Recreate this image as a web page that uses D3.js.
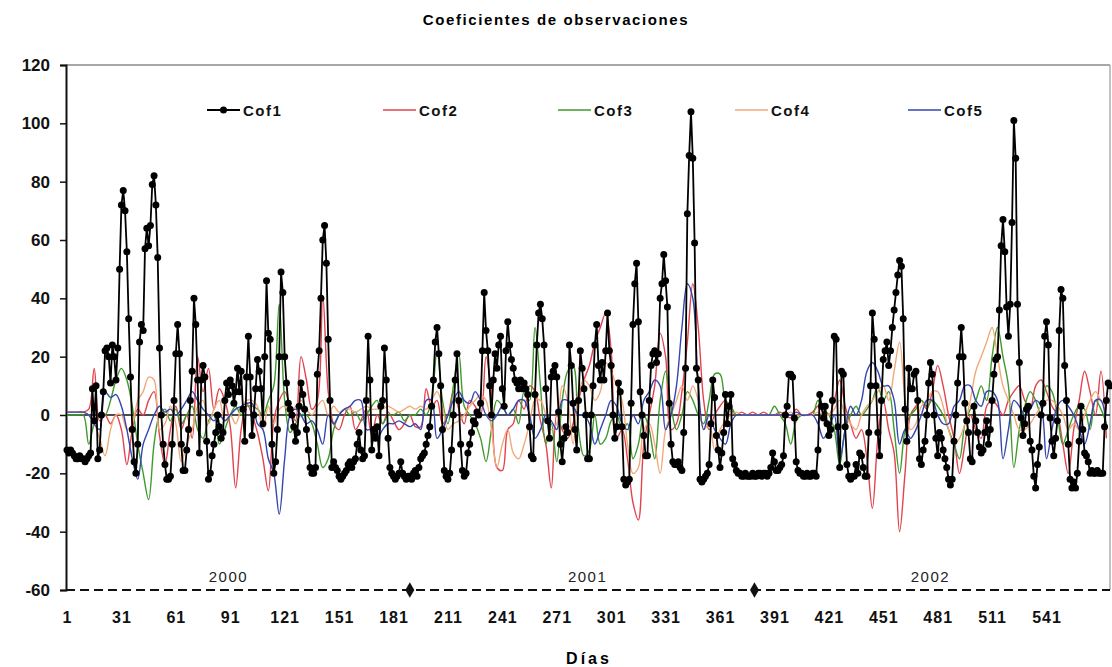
<!DOCTYPE html>
<html>
<head>
<meta charset="utf-8">
<script src="https://cdn.jsdelivr.net/npm/d3@7"></script>
<style>
  html, body { margin: 0; padding: 0; background: #fff; }
  svg { display: block; }
  text { font-family: "Liberation Sans", Arial, sans-serif; }
</style>
</head>
<body>
<svg id="chart" width="1112" height="667"></svg>
<script>
// ---------------- DATA ----------------
const seriesNames = ["Cof1", "Cof2", "Cof3", "Cof4", "Cof5"];
const xTickLabels = [1, 31, 61, 91, 121, 151, 181, 211, 241, 271, 301, 331, 361, 391, 421, 451, 481, 511, 541];
const yTickLabels = [-60, -40, -20, 0, 20, 40, 60, 80, 100, 120];
const yearLabels = ["2000", "2001", "2002"];
const yearLabelDays = [90, 288, 477];
const yearMarkDays = [190, 380];

// Cof1: one value per day (day 1 .. 576)
const cof1 = [
 -12,-13,-12,-13,-14,-15,-15,-14,-15,-15,
 -16,-15,-14,-13,9,-2,10,-15,-12,0,
 8,22,23,20,11,24,20,12,23,50,
 72,77,70,56,33,13,-5,-16,-20,-10,
 25,31,29,57,64,58,65,79,82,72,
 54,23,0,-10,-17,-22,-22,-21,-10,5,
 21,31,21,-10,-19,-19,-12,-5,5,15,
 40,31,12,-13,12,17,13,-9,-22,-20,
 -14,-10,-6,0,-4,-8,-6,5,11,7,
 12,10,4,8,16,8,15,2,-9,13,
 27,13,-7,0,9,19,15,9,-3,20,
 46,28,26,-10,-20,-16,-5,20,49,42,
 20,11,4,2,0,-4,-9,-6,3,11,
 7,2,-5,-12,-18,-20,-20,-18,14,22,
 40,60,65,52,26,5,-18,-16,-18,-19,
 -21,-22,-21,-20,-19,-17,-16,-18,-16,-15,
 -10,-6,-12,-15,-14,5,27,12,-12,-5,
 -8,-4,-14,3,5,23,12,-8,-18,-20,
 -21,-22,-21,-20,-16,-20,-21,-22,-21,-21,
 -22,-20,-19,-21,-18,-15,-14,-13,-10,-7,
 -4,3,12,25,30,21,10,-5,-19,-21,
 -22,-20,-12,0,12,21,5,-10,-19,-21,
 -20,-13,-10,-6,-2,-3,1,0,4,22,
 42,29,22,10,0,12,21,16,24,27,
 9,3,22,32,24,19,16,12,11,9,
 12,9,11,9,7,-4,-14,-15,7,24,
 35,38,33,24,9,-2,-8,13,15,17,
 13,1,-10,-16,-8,-4,-6,24,17,4,
 -5,-12,5,22,16,9,0,-15,-15,0,
 10,24,31,17,12,18,12,22,35,22,
 17,0,-8,-4,11,8,-4,-22,-24,-23,
 -22,4,31,45,52,32,8,0,-7,-14,
 -14,5,17,21,22,18,21,40,45,55,
 46,37,4,-10,-16,-17,-17,-16,-18,-19,
 -6,16,69,89,104,88,59,16,12,-22,
 -23,-22,-21,-20,-17,-3,12,6,-7,-12,
 -18,-13,-6,7,-3,3,7,-15,-17,-19,
 -20,-20,-21,-21,-20,-21,-21,-21,-20,-21,
 -21,-20,-20,-21,-20,-20,-21,-20,-18,-13,
 -16,-19,-19,-18,-17,-14,0,3,14,14,
 13,-1,-16,-19,-20,-20,-21,-21,-20,-21,
 -21,-20,-20,-21,-12,7,3,-1,3,-3,
 -7,-5,5,27,26,-4,-18,15,14,-4,
 -17,-21,-22,-21,-21,-17,-20,-13,-14,-18,
 -21,-21,-6,10,35,26,10,-6,-14,5,
 19,22,25,17,22,30,36,42,48,53,
 51,33,2,-9,16,9,9,14,15,5,
 -15,-17,-12,-9,0,11,18,14,0,-8,
 -14,-6,-8,-12,-15,-18,-22,-24,-22,-9,
 0,11,20,30,20,4,-2,-6,-15,-16,
 3,-2,-6,-11,-13,-12,-6,-2,-10,-5,
 5,14,19,20,36,58,67,56,37,27,
 38,66,101,88,38,18,-1,-7,-3,2,
 3,-9,-12,-21,-25,-17,-11,0,4,27,
 32,24,-1,-9,-14,-8,-2,29,43,40,
 17,5,-10,-22,-25,-23,-25,-20,-9,3,
 -5,-13,-14,-16,-20,-19,-20,-20,-19,-20,
 -20,-20,-4,5,11,10
];

// Cof2..Cof5: read every third day (day 1, 4, 7, ...)
const cof2 = [
 1,1,1,1,2,16,-2,0,-3,0,
 -5,-17,-5,2,0,5,8,-7,-17,-5,
 3,-5,0,-8,20,8,16,2,9,5,
 -4,-25,-5,4,0,-6,-15,-26,-2,5,
 8,3,-2,20,12,2,5,41,8,-3,
 -5,0,3,-5,-2,2,-7,0,-3,1,
 -2,-5,-3,0,-4,-4,9,3,5,-3,
 0,8,2,-3,5,3,0,20,8,-18,
 -19,-5,-3,5,2,10,8,-2,-10,-25,
 0,-5,-8,-3,5,12,17,25,30,35,
 22,-8,-5,-15,-30,-36,-10,0,10,28,
 20,-5,-3,8,25,45,30,5,-5,0,
 3,5,2,0,1,0,1,0,1,0,
 0,1,0,-1,2,0,0,1,3,1,
 0,5,12,3,-3,-8,-5,-15,-32,-8,
 5,-5,-13,-40,-20,0,3,5,2,8,
 17,10,0,-8,-20,-10,0,-5,-8,3,
 5,3,0,5,8,10,5,2,10,12,
 8,3,0,-10,-20,-5,5,15,8,0,
 15,-8
];
const cof3 = [
 0,0,0,0,-10,-3,0,0,5,12,
 16,12,3,-10,-20,-29,-10,0,2,-2,
 2,-3,0,3,-5,-8,-2,0,-10,-5,
 0,3,0,3,3,2,0,5,10,38,
 5,-6,-3,0,0,-3,-10,-18,-15,-5,
 0,2,0,1,-2,0,3,5,-3,0,
 0,1,-2,0,0,2,0,5,22,5,
 -3,10,21,3,0,-3,-8,-16,-5,5,
 3,0,2,-3,8,5,30,10,-10,-3,
 -16,5,15,17,-5,-14,-12,0,-10,-8,
 -2,0,-5,-3,-15,-10,0,-5,-15,5,
 15,3,-5,0,8,5,0,-3,5,14,
 14,5,3,0,0,0,0,0,0,0,
 3,0,-3,-10,-2,0,0,0,5,2,
 0,-5,-17,-5,0,3,0,2,5,10,
 5,8,-5,-20,-5,0,2,5,3,5,
 3,0,-5,-10,-15,-3,2,5,10,5,
 20,30,20,10,-18,-5,3,8,5,0,
 10,8,0,-10,-5,0,3,2,-5,5,
 2,-3
];
const cof4 = [
 1,1,1,1,0,-3,-8,-14,-5,0,
 0,-5,-3,5,8,13,12,-5,-3,3,
 -3,-16,-10,-5,3,5,-3,2,5,-2,
 0,-3,2,5,5,3,-5,3,-3,2,
 3,0,3,5,2,0,3,5,0,3,
 1,2,2,1,2,3,2,2,2,3,
 2,1,2,3,2,3,2,5,8,3,
 -5,-3,-2,0,3,5,7,5,-5,-18,
 -10,-5,-13,-15,-10,-3,5,5,0,-5,
 -3,10,5,-10,8,12,10,5,8,18,
 15,10,5,-10,-20,-18,-5,-3,-10,-20,
 -5,0,5,10,5,10,5,-5,-3,-12,
 -5,-2,0,1,0,0,0,0,0,0,
 0,0,0,1,0,0,0,0,1,0,
 0,2,5,0,-3,-5,0,3,5,8,
 10,5,15,25,5,-5,-3,3,5,8,
 8,3,-5,-10,-8,-3,5,15,20,25,
 30,20,10,5,0,-5,-5,-3,0,3,
 5,5,3,0,-5,-3,-5,0,5,8,
 5,2
];
const cof5 = [
 1,1,1,1,0,-3,-5,8,6,7,
 3,-5,-15,-22,-10,-5,0,3,1,2,
 0,2,5,8,5,2,0,-2,0,-2,
 0,2,3,4,4,-3,-5,-15,-20,-34,
 -15,0,2,0,-3,-2,-5,-10,0,-3,
 0,2,3,5,5,-5,-5,-8,-5,-3,
 -3,-2,-3,-4,-3,-5,5,5,-8,-5,
 0,5,8,5,4,8,5,0,-2,0,
 3,0,2,5,5,0,-8,-5,0,-2,
 -5,5,5,3,0,0,-3,-10,-5,0,
 5,3,-3,-5,0,-3,5,8,12,10,
 -5,0,10,30,45,40,10,-5,0,-5,
 -8,-10,-3,0,0,0,0,0,0,0,
 0,0,0,0,1,0,0,0,-3,-8,
 -5,0,-15,-5,3,0,5,15,18,15,
 10,10,5,-10,-5,-8,-5,0,5,5,
 0,-3,-3,3,5,10,10,5,3,8,
 8,5,-15,-5,5,3,0,2,5,3,
 -15,-5,3,5,3,0,-5,-10,-3,5,
 5,-5
];
const colorSeries = [cof2, cof3, cof4, cof5];
const seriesColors = ["#000000", "#e2434d", "#3f9a2c", "#f2a979", "#3346b0"];

// ---------------- LAYOUT ----------------
const svg = d3.select("#chart");
const plot = { left: 66, right: 1110, top: 65, bottom: 590 };
const lastDay = cof1.length;

const x = d3.scaleLinear().domain([1, lastDay]).range([67, plot.right]);
const y = d3.scaleLinear().domain([-60, 120]).range([plot.bottom, plot.top]);

// title
svg.append("text")
  .attr("x", 556).attr("y", 25)
  .attr("text-anchor", "middle")
  .style("font-size", "15px").style("font-weight", "bold")
  .style("letter-spacing", "1.6px")
  .text("Coeficientes de observaciones");

// plot border (top & right)
svg.append("line").attr("x1", plot.left).attr("x2", plot.right)
  .attr("y1", plot.top).attr("y2", plot.top)
  .attr("stroke", "#8a8a8a").attr("stroke-width", 1.5);
svg.append("line").attr("x1", plot.right).attr("x2", plot.right)
  .attr("y1", plot.top).attr("y2", plot.bottom)
  .attr("stroke", "#9a9a9a").attr("stroke-width", 1.2);

// y axis (plain hyphen minus, as in the reference)
const yAxis = d3.axisLeft(y).tickValues(yTickLabels).tickSize(6).tickPadding(10)
  .tickFormat(d => String(d));
const gy = svg.append("g").attr("transform", `translate(${plot.left},0)`).call(yAxis);
gy.select(".domain").attr("stroke", "#111").attr("stroke-width", 2);
gy.selectAll(".tick line").attr("stroke", "#111").attr("stroke-width", 1.5);
gy.selectAll(".tick text")
  .style("font-size", "17px").style("font-weight", "bold")
  .style("font-family", "'Liberation Sans', Arial, sans-serif")
  .attr("fill", "#111");

// x axis labels (no axis line; dashed line drawn below)
const xAxis = d3.axisBottom(x).tickValues(xTickLabels).tickSize(0).tickPadding(22)
  .tickFormat(d => String(d));
const gx = svg.append("g").attr("transform", `translate(0,${plot.bottom})`).call(xAxis);
gx.select(".domain").remove();
gx.selectAll(".tick text")
  .style("font-size", "16px").style("font-weight", "bold")
  .style("letter-spacing", "1px")
  .style("font-family", "'Liberation Sans', Arial, sans-serif")
  .attr("fill", "#111");

// x axis title
svg.append("text")
  .attr("x", 589).attr("y", 664)
  .attr("text-anchor", "middle")
  .style("font-size", "16px").style("font-weight", "bold")
  .style("letter-spacing", "3px")
  .text("Días");

// zero line
svg.append("line")
  .attr("x1", plot.left).attr("x2", plot.right)
  .attr("y1", y(0)).attr("y2", y(0))
  .attr("stroke", "#111").attr("stroke-width", 1.3);

// dashed base line at -60 with year markers
svg.append("line")
  .attr("x1", plot.left).attr("x2", plot.right)
  .attr("y1", y(-60)).attr("y2", y(-60))
  .attr("stroke", "#111").attr("stroke-width", 2.2)
  .attr("stroke-dasharray", "9,5");
svg.selectAll(".yearmark").data(yearMarkDays).enter().append("path")
  .attr("class", "yearmark")
  .attr("d", d3.symbol().type(d3.symbolDiamond).size(70))
  .attr("transform", d => `translate(${x(d)},${y(-60)})`)
  .attr("fill", "#111");
svg.selectAll(".yearlabel").data(yearLabels).enter().append("text")
  .attr("class", "yearlabel")
  .attr("x", (d, i) => x(yearLabelDays[i]))
  .attr("y", y(-60) - 8)
  .attr("text-anchor", "middle")
  .style("font-size", "15px")
  .style("letter-spacing", "1.5px")
  .attr("fill", "#222")
  .text(d => d);

// colored series (sampled every third day)
const colorDays = d3.range(1, lastDay + 1, 3);
const smoothLine = d3.line()
  .x(d => x(d[0])).y(d => y(d[1]))
  .curve(d3.curveCatmullRom.alpha(0.5));

colorSeries.forEach((vals, k) => {
  const pts = vals.map((v, i) => [colorDays[i], v]);
  svg.append("path")
    .datum(pts)
    .attr("fill", "none")
    .attr("stroke", seriesColors[k + 1])
    .attr("stroke-width", 1.4)
    .attr("d", smoothLine);
});

// Cof1 with markers
const pts1 = cof1.map((v, i) => [i + 1, v]);
const line1 = d3.line().x(d => x(d[0])).y(d => y(d[1]));
svg.append("path")
  .datum(pts1)
  .attr("fill", "none")
  .attr("stroke", "#000")
  .attr("stroke-width", 1.8)
  .attr("d", line1);
svg.append("g").selectAll("circle").data(pts1).enter().append("circle")
  .attr("cx", d => x(d[0])).attr("cy", d => y(d[1]))
  .attr("r", 3.5).attr("fill", "#000");

// legend
const legendX = [207, 383, 558, 735, 908];
const legendY = 110;
seriesNames.forEach((name, i) => {
  const g = svg.append("g").attr("transform", `translate(${legendX[i]},${legendY})`);
  g.append("line").attr("x1", 0).attr("x2", 33).attr("y1", 0).attr("y2", 0)
    .attr("stroke", seriesColors[i]).attr("stroke-width", i === 0 ? 1.8 : 1.5);
  if (i === 0) g.append("circle").attr("cx", 16.5).attr("cy", 0).attr("r", 3.5).attr("fill", "#000");
  g.append("text").attr("x", 36).attr("y", 6)
    .style("font-size", "15px").style("font-weight", "bold")
    .style("letter-spacing", "1.5px")
    .attr("fill", "#111")
    .text(name);
});
</script>
</body>
</html>
